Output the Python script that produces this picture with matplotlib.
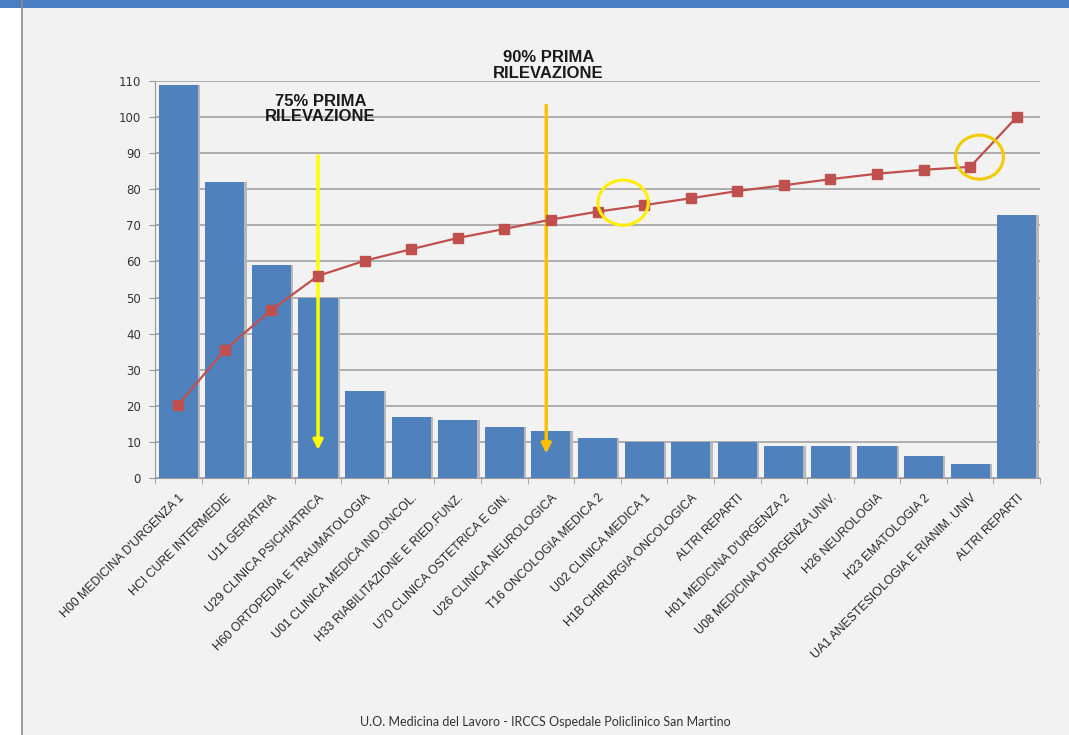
import matplotlib.pyplot as plt
from matplotlib.patches import Rectangle, Ellipse
from matplotlib.lines import Line2D
import numpy as np

# reparti ordinati per numero di segnalazioni, ultima colonna = altri reparti
reparti = [
    "H00 MEDICINA D'URGENZA 1", "HCI CURE INTERMEDIE", "U11 GERIATRIA",
    "U29 CLINICA PSICHIATRICA", "H60 ORTOPEDIA E TRAUMATOLOGIA",
    "U01 CLINICA MEDICA IND.ONCOL.", "H33 RIABILITAZIONE E RIED.FUNZ.",
    "U70 CLINICA OSTETRICA E GIN.", "U26 CLINICA NEUROLOGICA",
    "T16 ONCOLOGIA MEDICA 2", "U02 CLINICA MEDICA 1", "H1B CHIRURGIA ONCOLOGICA",
    "ALTRI REPARTI", "H01 MEDICINA D'URGENZA 2", "U08 MEDICINA D'URGENZA UNIV.",
    "H26 NEUROLOGIA", "H23 EMATOLOGIA 2", "UA1 ANESTESIOLOGIA E RIANIM. UNIV",
    "ALTRI REPARTI",
]
casi = [109, 82, 59, 50, 24, 17, 16, 14, 13, 11, 10, 10, 10, 9, 9, 9, 6, 4, 73]
cumulata = [20.3, 35.5, 46.6, 56.0, 60.2, 63.4, 66.5, 69.0, 71.6, 73.8, 75.6,
            77.5, 79.5, 81.1, 82.8, 84.3, 85.4, 86.2, 100.0]

x = np.arange(len(reparti))

fig = plt.figure(figsize=(10.69, 7.35), dpi=100)
fig.patch.set_facecolor('#f2f2f2')

# cornice della slide
fig.add_artist(Rectangle((0, 0), 22 / 1069, 1, transform=fig.transFigure,
                         facecolor='white', edgecolor='none', zorder=0))
fig.add_artist(Line2D([22 / 1069, 22 / 1069], [0, 1], transform=fig.transFigure,
                      color='#8c8c8c', lw=1.2))
fig.add_artist(Rectangle((0, 1 - 8 / 735), 1, 8 / 735, transform=fig.transFigure,
                         facecolor='#4a7ec2', edgecolor='none'))

ax = fig.add_axes([155 / 1069, 1 - 478 / 735, (1040 - 155) / 1069, (478 - 81) / 735])
ax.set_facecolor('#f2f2f2')

ax.bar(x + 0.05, casi, width=0.84, color='#b8b8b8', zorder=2)
ax.bar(x, casi, width=0.84, color='#4f81bd', zorder=3)
ax.plot(x, cumulata, color='#c0504d', lw=1.6, marker='s', markersize=6.5,
        markerfacecolor='#c0504d', markeredgecolor='#c0504d', zorder=5)

ax.set_xlim(-0.5, len(reparti) - 0.5)
ax.set_ylim(0, 110)
ax.set_yticks(np.arange(0, 111, 10))
ax.yaxis.grid(True, color='#9a9a9a', lw=1.1)
ax.set_axisbelow(True)

ax.set_xticks(x)
ax.set_xticklabels(reparti, rotation=45, ha='right', rotation_mode='anchor',
                   fontsize=8.8, color='#262626', family='Liberation Sans')
ax.set_xticks(np.arange(-0.5, len(reparti), 1), minor=True)
ax.tick_params(axis='x', which='major', length=0, pad=10)
ax.tick_params(axis='x', which='minor', length=4, color='#9a9a9a')
ax.tick_params(axis='y', length=4, color='#9a9a9a', labelsize=8.5, labelcolor='#333333', pad=6)

for s in ['top', 'right']:
    ax.spines[s].set_visible(False)
for s in ['left', 'bottom']:
    ax.spines[s].set_color('#9a9a9a')

# soglie 75% e 90%
ax.text(3.05, 102.2, "75% PRIMA\nRILEVAZIONE", ha='center', va='center',
        fontsize=12, fontweight='bold', color='#1a1a1a', family='Liberation Sans',
        linespacing=1.05)
ax.annotate('', xy=(3.0, 7), xytext=(3.0, 90),
            arrowprops=dict(arrowstyle='-|>', color='#ffff00', lw=2.5, mutation_scale=14))
ax.text(7.95, 114.3, "90% PRIMA\nRILEVAZIONE", ha='center', va='center',
        fontsize=12, fontweight='bold', color='#1a1a1a', family='Liberation Sans',
        linespacing=1.05, clip_on=False)
ax.annotate('', xy=(7.9, 6), xytext=(7.9, 104),
            arrowprops=dict(arrowstyle='-|>', color='#ffc000', lw=2.5, mutation_scale=14))

# cerchi sui punti di attraversamento
ax.add_patch(Ellipse((9.55, 76.3), 1.08, 12.5, fill=False, edgecolor='#ffee00', lw=2.2, zorder=6))
ax.add_patch(Ellipse((17.2, 88.9), 1.03, 12.2, fill=False, edgecolor='#f2cc00', lw=2.2, zorder=6))

fig.text(545 / 1069, 1 - 722 / 735, "U.O. Medicina del Lavoro - IRCCS Ospedale Policlinico San Martino",
         ha='center', va='center', fontsize=9, color='#333333', family='Lato')

fig.savefig('out.png', dpi=100, facecolor=fig.get_facecolor())
